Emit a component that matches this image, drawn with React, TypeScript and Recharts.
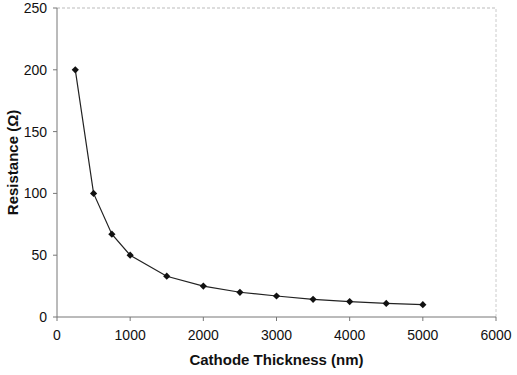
import { LineChart, Line, XAxis, YAxis, ReferenceLine } from 'recharts'

const thickness = [250, 500, 750, 1000, 1500, 2000, 2500, 3000, 3500, 4000, 4500, 5000]
const resistance = [200, 100, 67, 50, 33, 25, 20, 17, 14.3, 12.5, 11, 10]
const xTicks = [0, 1000, 2000, 3000, 4000, 5000, 6000]
const yTicks = [0, 50, 100, 150, 200, 250]

const data = thickness.map((t, i) => ({ t, r: resistance[i] }))

const FONT = 'Liberation Sans, Arial, sans-serif'

function Diamond({ cx, cy }: any) {
  if (cx == null || cy == null) return null
  const s = 3.6
  return (
    <polygon
      points={`${cx},${cy - s} ${cx + s},${cy} ${cx},${cy + s} ${cx - s},${cy}`}
      fill="#111"
    />
  )
}

export default function App() {
  return (
    <div style={{ position: 'absolute', left: 0, top: 0, width: 517, height: 375, background: '#fff' }}>
      <LineChart width={517} height={375} data={data} margin={{ top: 8, right: 21, bottom: 0, left: 0 }}>
        <XAxis
          type="number" dataKey="t" domain={[0, 6000]} ticks={xTicks}
          height={58}
          stroke="#777" tickSize={4}
          tick={{ fontSize: 14, fill: '#111', fontFamily: FONT }}
          tickMargin={9}
          label={{ value: 'Cathode Thickness (nm)', position: 'insideBottom', offset: 10, fontSize: 15, fontWeight: 'bold', fill: '#111', fontFamily: FONT }}
        />
        <YAxis
          type="number" domain={[0, 250]} ticks={yTicks} width={57}
          stroke="#777" tickSize={4}
          tick={{ fontSize: 14, fill: '#111', fontFamily: FONT }}
          tickMargin={6}
          label={{ value: 'Resistance (Ω)', angle: -90, position: 'center', dx: -16, fontSize: 15, fontWeight: 'bold', fill: '#111', fontFamily: FONT }}
        />
        <ReferenceLine y={250} stroke="#bbb" strokeDasharray="3 2" />
        <ReferenceLine x={6000} stroke="#ccc" strokeDasharray="3 2" />
        <Line
          dataKey="r" stroke="#222" strokeWidth={1.2}
          dot={<Diamond />} activeDot={false}
          isAnimationActive={false}
        />
      </LineChart>
    </div>
  )
}
